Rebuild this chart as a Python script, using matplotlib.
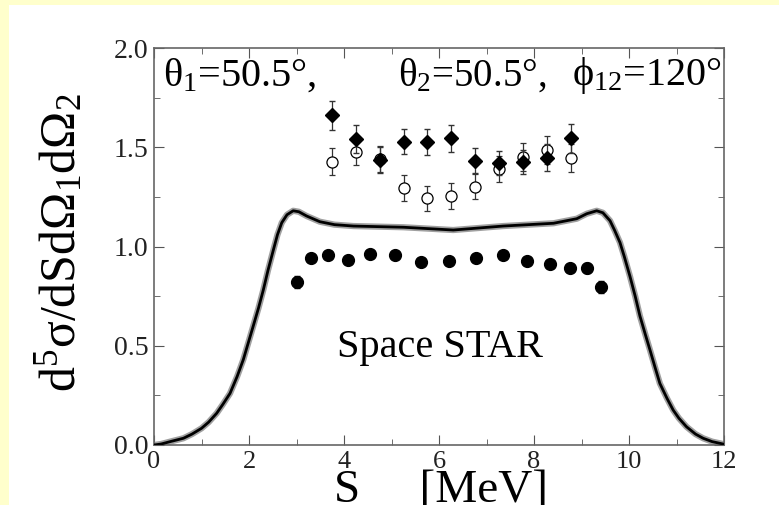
import matplotlib.pyplot as plt

plt.rcParams['font.family'] = ['Liberation Serif', 'DejaVu Serif']
plt.rcParams['mathtext.fontset'] = 'custom'
plt.rcParams['mathtext.rm'] = 'Liberation Serif'
plt.rcParams['mathtext.it'] = 'Liberation Serif'
plt.rcParams['mathtext.default'] = 'regular'

# Space STAR theory curve
curve_s = [0, 0.15, 0.34, 0.62, 0.8, 1.0, 1.15, 1.32, 1.45, 1.6, 1.75, 1.88, 2.09, 2.2,
           2.30, 2.4, 2.51, 2.6, 2.69, 2.8, 2.93, 3.05, 3.21, 3.49, 3.8, 4.2, 5.25, 6.3,
           7.35, 8.41, 8.9, 9.11, 9.32, 9.45, 9.6, 9.7, 9.81, 9.9, 10.02, 10.13, 10.23,
           10.34, 10.44, 10.55, 10.65, 10.8, 10.93, 11.05, 11.21, 11.4, 11.56, 11.75,
           11.98, 12.0]
curve_y = [0, 0.005, 0.017, 0.034, 0.055, 0.084, 0.115, 0.16, 0.205, 0.26, 0.345, 0.43,
           0.60, 0.69, 0.78, 0.88, 0.98, 1.06, 1.12, 1.16, 1.18, 1.175, 1.154, 1.125, 1.11,
           1.103, 1.097, 1.083, 1.103, 1.117, 1.14, 1.165, 1.18, 1.17, 1.13, 1.08, 1.02,
           0.95, 0.85, 0.75, 0.65, 0.56, 0.48, 0.39, 0.31, 0.235, 0.176, 0.135, 0.092,
           0.055, 0.034, 0.017, 0.005, 0]

# filled diamonds
dia_s = [3.74, 4.25, 4.76, 5.26, 5.75, 6.25, 6.75, 7.26, 7.76, 8.27, 8.77]
dia_y = [1.66, 1.543, 1.434, 1.528, 1.528, 1.545, 1.431, 1.419, 1.426, 1.448, 1.545]
dia_err = [0.073, 0.07, 0.065, 0.064, 0.065, 0.067, 0.063, 0.06, 0.06, 0.07, 0.073]

# open circles
oc_s = [3.74, 4.25, 4.76, 5.26, 5.75, 6.25, 6.75, 7.26, 7.76, 8.27, 8.77]
oc_y = [1.428, 1.476, 1.44, 1.294, 1.242, 1.255, 1.300, 1.392, 1.451, 1.486, 1.446]
oc_err = [0.069, 0.063, 0.065, 0.064, 0.065, 0.065, 0.063, 0.065, 0.07, 0.07, 0.07]

# filled circles
fc_s = [3.01, 3.31, 3.67, 4.08, 4.55, 5.08, 5.63, 6.22, 6.77, 7.35, 7.86, 8.33, 8.75, 9.11, 9.42]
fc_y = [0.823, 0.941, 0.959, 0.932, 0.962, 0.959, 0.924, 0.929, 0.942, 0.959, 0.926,
        0.912, 0.890, 0.890, 0.798]
fc_err = [0.03, 0.02, 0.02, 0.02, 0.02, 0.02, 0.02, 0.02, 0.02, 0.02, 0.02, 0.02, 0.02, 0.025, 0.03]

fig = plt.figure(figsize=(7.79, 5.05), dpi=100)
fig.patch.set_facecolor('#ffffcc')

# white panel behind the plot
bg = fig.add_axes([9 / 779, 0, 770 / 779, 500 / 505], zorder=-1)
bg.set_facecolor('white')
bg.set_xticks([])
bg.set_yticks([])
for sp in bg.spines.values():
    sp.set_visible(False)

ax = fig.add_axes([154 / 779, 60 / 505, 570 / 779, 397 / 505], zorder=1)

ax.plot(curve_s, curve_y, color='#a0a0a0', lw=4.5, zorder=2)
ax.plot(curve_s, curve_y, color='black', lw=2, zorder=3)

ax.errorbar(oc_s, oc_y, yerr=oc_err, fmt='o', ms=8, mfc='white', mec='black', mew=0.9,
            ecolor='#333333', elinewidth=0.9, capsize=2, zorder=4)
ax.errorbar(dia_s, dia_y, yerr=dia_err, fmt='D', ms=7, color='black',
            ecolor='#333333', elinewidth=0.9, capsize=2, zorder=5)
ax.errorbar(fc_s, fc_y, yerr=fc_err, fmt='o', ms=8.5, color='black',
            ecolor='black', elinewidth=0.9, capsize=2, zorder=5)

ax.set_xlim(0, 12)
ax.set_ylim(0, 2.0)
ax.set_xticks([0, 2, 4, 6, 8, 10, 12])
ax.set_xticks([1, 3, 5, 7, 9, 11], minor=True)
ax.set_yticks([0, 0.5, 1.0, 1.5, 2.0])
ax.set_yticklabels(['0.0', '0.5', '1.0', '1.5', '2.0'])
ax.set_yticks([0.25, 0.75, 1.25, 1.75], minor=True)
ax.tick_params(which='both', direction='in', top=True, right=True, color='#555555')
ax.tick_params(which='major', length=7, labelsize=20, labelcolor='#222222')
ax.tick_params(which='minor', length=4)
ax.tick_params(axis='y', pad=4)
ax.tick_params(axis='x', pad=4, labelsize=19)
for sp in ax.spines.values():
    sp.set_color('#666666')
    sp.set_linewidth(1.2)

ax.text(0.19, 1.86, r'$\theta_1$=50.5°,', fontsize=29, va='center', ha='left')
ax.text(5.14, 1.86, r'$\theta_2$=50.5°,', fontsize=28, va='center', ha='left')
ax.text(8.8, 1.86, r'$\phi_{12}$=120°', fontsize=29, va='center', ha='left')
ax.text(6.02, 0.49, 'Space STAR', fontsize=29, va='center', ha='center')

fig.text(60 / 779, 1 - 243 / 505, r'$d^5\sigma/dSd\Omega_1d\Omega_2$', fontsize=36,
         rotation=90, ha='center', va='center')
fig.text(441 / 779, 1 - 491 / 505, 'S     [MeV]', fontsize=34, ha='center', va='center')

fig.savefig('out.png', dpi=100, facecolor=fig.get_facecolor())
